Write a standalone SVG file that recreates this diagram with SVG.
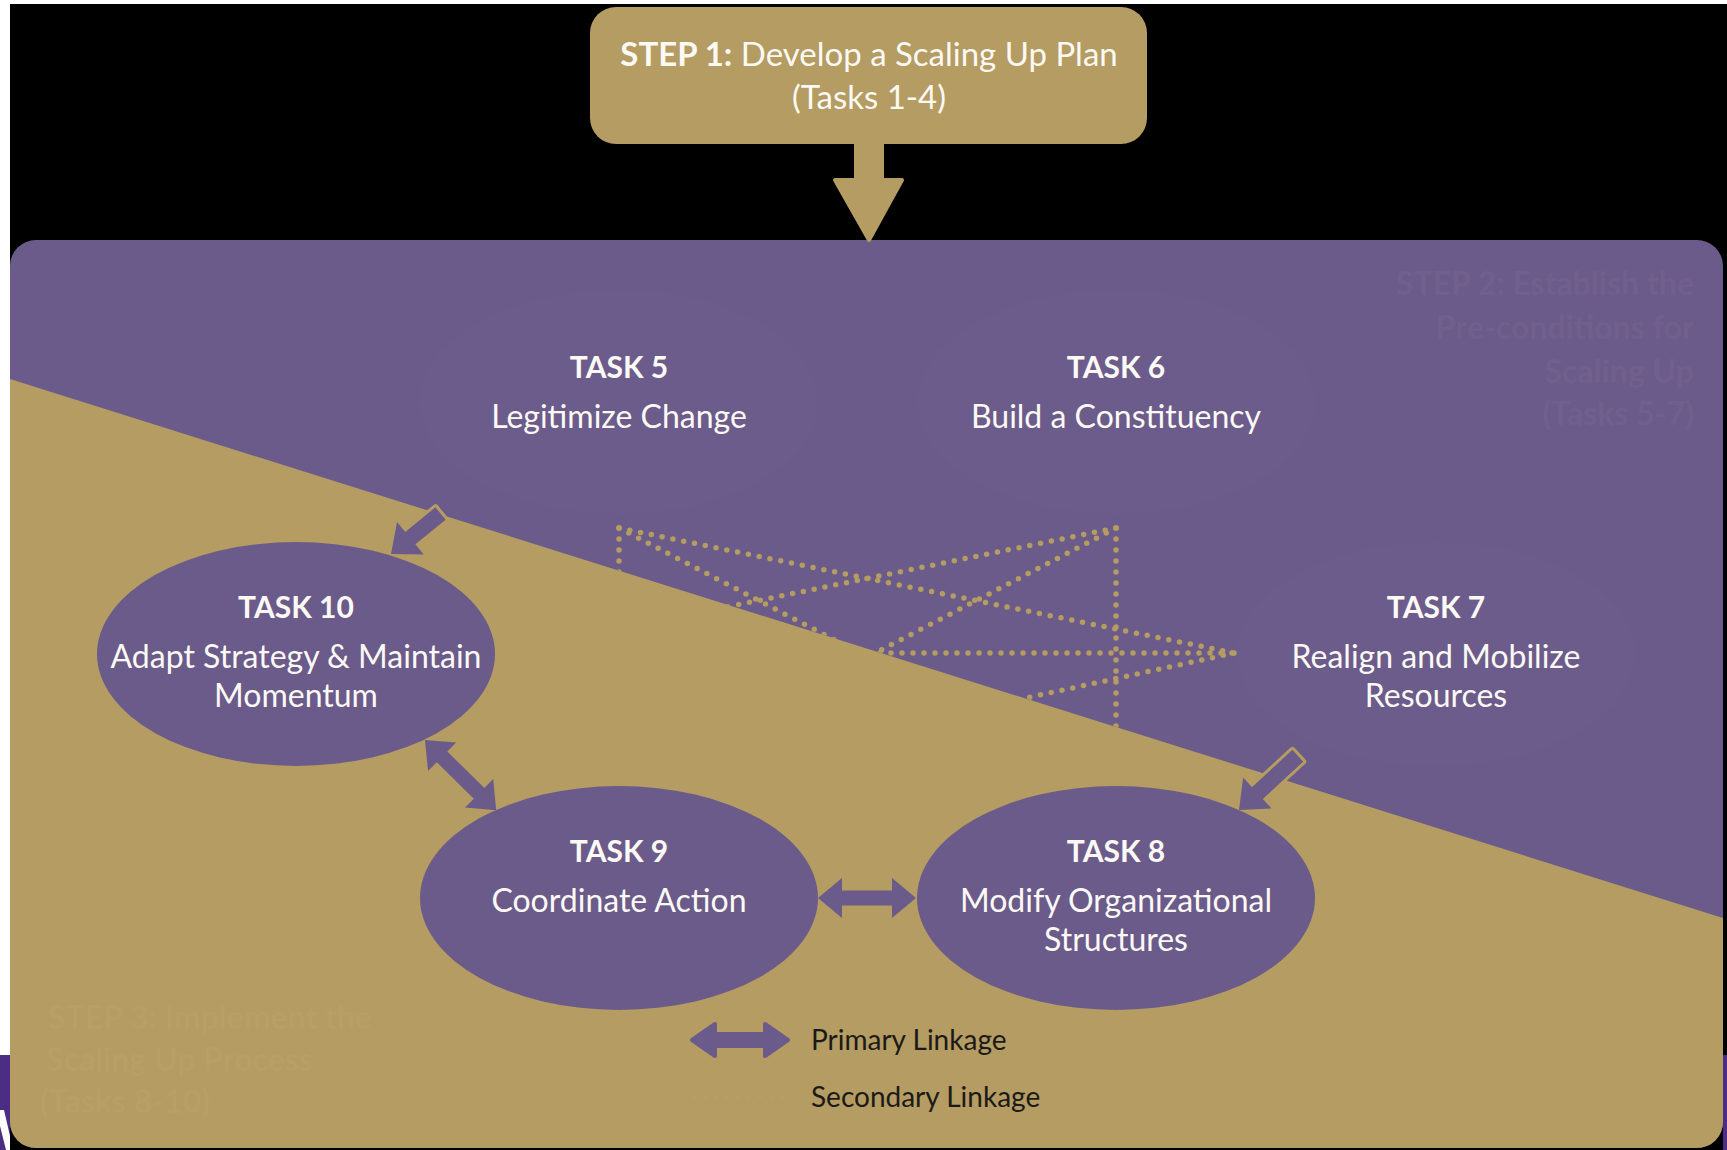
<svg xmlns="http://www.w3.org/2000/svg" width="1727" height="1150" viewBox="0 0 1727 1150">
  <defs>
    <style>
      .t { font-family: Lato, "Open Sans", "Liberation Sans", sans-serif; fill: #fbf9f4; text-anchor: middle; }
      .tt { font-size: 30px; font-weight: 700; }
      .tn { font-size: 32px; font-weight: 400; }
      .node { fill: #6b5b8a; }
      .ghost { fill: #6c5c8b; }
      .prim { fill: #6b5b8a; stroke: #b49c62; stroke-width: 6; stroke-linejoin: round; paint-order: stroke; }
      .dots { fill: none; stroke: #b49c62; stroke-width: 5.5; stroke-linecap: round; stroke-dasharray: 0 11; }
      .faintP { font-family: Lato, "Open Sans", "Liberation Sans", sans-serif; font-size: 32px; font-weight: 700; fill: #70608d; }
      .faintG { font-family: Lato, "Open Sans", "Liberation Sans", sans-serif; font-size: 32px; font-weight: 700; fill: #b79f65; }
      .leg { font-family: Lato, "Open Sans", "Liberation Sans", sans-serif; font-size: 28px; fill: #1b1a17; }
    </style>
    <clipPath id="panel">
      <rect x="10" y="240" width="1713" height="908" rx="26"/>
    </clipPath>
    <clipPath id="upper">
      <polygon points="10,240 1723,240 1723,918 10,379"/>
    </clipPath>
  </defs>

  <!-- page background -->
  <rect x="0" y="0" width="1727" height="1150" fill="#ffffff"/>
  <rect x="10" y="4" width="1717" height="1146" fill="#000000"/>
  <rect x="1723" y="1055" width="4" height="95" fill="#4b2e83"/>
  <rect x="0" y="1055" width="10" height="95" fill="#4b2e83"/>
  <polygon points="0,1110 4,1110 10,1136 10,1150 6,1150 0,1126" fill="#ffffff"/>

  <!-- main panel -->
  <g id="panel-bg" clip-path="url(#panel)">
    <rect x="10" y="240" width="1713" height="908" fill="#6b5b8a"/>
    <polygon points="10,379 1723,918 1723,1148 10,1148" fill="#b49c62"/>
  </g>

  <!-- faint step labels -->
  <g id="step2-label">
    <text class="faintP" text-anchor="end" x="1694" y="295">STEP 2: Establish the</text>
    <text class="faintP" text-anchor="end" x="1694" y="339">Pre-conditions for</text>
    <text class="faintP" text-anchor="end" x="1694" y="383">Scaling Up</text>
    <text class="faintP" text-anchor="end" x="1694" y="425">(Tasks 5-7)</text>
  </g>
  <g id="step3-label">
    <text class="faintG" x="48" y="1029">STEP 3: Implement the</text>
    <text class="faintG" x="46" y="1071">Scaling Up Process</text>
    <text class="faintG" x="40" y="1113">(Tasks 8-10)</text>
  </g>

  <!-- step 1 -->
  <g id="step1">
    <rect x="590" y="7" width="557" height="137" rx="26" fill="#b49c62"/>
    <path d="M856,140 L882,140 L882,180 L902,180 L869,240 L835,180 L856,180 Z" fill="#b49c62" stroke="#b49c62" stroke-width="4" stroke-linejoin="round"/>
    <text class="t" x="869" y="66" font-size="33"><tspan font-weight="700">STEP 1:</tspan> Develop a Scaling Up Plan</text>
    <text class="t" x="869" y="109" font-size="33">(Tasks 1-4)</text>
  </g>

  <!-- nodes -->
  <g id="task5">
    <ellipse class="ghost" cx="619" cy="402" rx="199" ry="112"/>
    <text class="t tt" x="619" y="378">TASK 5</text>
    <text class="t tn" x="619" y="428">Legitimize Change</text>
  </g>
  <g id="task6">
    <ellipse class="ghost" cx="1116" cy="402" rx="199" ry="112"/>
    <text class="t tt" x="1116" y="378">TASK 6</text>
    <text class="t tn" x="1116" y="428">Build a Constituency</text>
  </g>
  <g id="task7">
    <ellipse class="ghost" cx="1436" cy="654" rx="199" ry="112"/>
    <text class="t tt" x="1436" y="618">TASK 7</text>
    <text class="t tn" x="1436" y="668">Realign and Mobilize</text>
    <text class="t tn" x="1436" y="707">Resources</text>
  </g>

  <!-- connectors -->
  <g id="connectors">
    <g clip-path="url(#upper)">
      <line class="dots" x1="619" y1="528" x2="1234" y2="653"/>
      <line class="dots" x1="1116" y1="528" x2="495" y2="654"/>
      <line class="dots" x1="619" y1="528" x2="1116" y2="786"/>
      <line class="dots" x1="1116" y1="528" x2="619" y2="786"/>
      <line class="dots" x1="495" y1="653" x2="1234" y2="653"/>
      <line class="dots" x1="1234" y1="653" x2="619" y2="786"/>
      <line class="dots" x1="619" y1="528" x2="619" y2="786"/>
      <line class="dots" x1="1116" y1="528" x2="1116" y2="786"/>
    </g>
    <path class="prim" transform="translate(391,554) rotate(-39.3)" d="M0,0 L25,-21 L25,-8 L64,-8 L64,8 L25,8 L25,21 Z"/>
    <path class="prim" transform="translate(1239,810) rotate(-42.7)" d="M0,0 L25,-21 L25,-8 L80,-8 L80,8 L25,8 L25,21 Z"/>
    <path class="prim" transform="translate(425,740) rotate(44.6)" d="M0,0 L24,-20 L24,-7.5 L76,-7.5 L76,-20 L100,0 L76,20 L76,7.5 L24,7.5 L24,20 Z"/>
    <path class="prim" transform="translate(818,898)" d="M0,0 L24,-20 L24,-7.5 L74,-7.5 L74,-20 L98,0 L74,20 L74,7.5 L24,7.5 L24,20 Z"/>
  </g>

  <g id="task10">
    <ellipse class="node" cx="296" cy="654" rx="199" ry="112"/>
    <text class="t tt" x="296" y="618">TASK 10</text>
    <text class="t tn" x="296" y="668">Adapt Strategy &amp; Maintain</text>
    <text class="t tn" x="296" y="707">Momentum</text>
  </g>
  <g id="task9">
    <ellipse class="node" cx="619" cy="898" rx="199" ry="112"/>
    <text class="t tt" x="619" y="862">TASK 9</text>
    <text class="t tn" x="619" y="912">Coordinate Action</text>
  </g>
  <g id="task8">
    <ellipse class="node" cx="1116" cy="898" rx="199" ry="112"/>
    <text class="t tt" x="1116" y="862">TASK 8</text>
    <text class="t tn" x="1116" y="912">Modify Organizational</text>
    <text class="t tn" x="1116" y="951">Structures</text>
  </g>

  <!-- legend -->
  <g id="legend">
    <path fill="#6b5b8a" stroke="#6b5b8a" stroke-width="4" stroke-linejoin="round" transform="translate(692,1040)" d="M0,0 L23,-16 L23,-6 L73,-6 L73,-16 L96,0 L73,16 L73,6 L23,6 L23,16 Z"/>
    <text class="leg" x="811" y="1050">Primary Linkage</text>
    <line x1="694" y1="1097" x2="788" y2="1097" stroke="#b69e64" stroke-width="5" stroke-linecap="round" stroke-dasharray="0 11"/>
    <text class="leg" x="811" y="1107">Secondary Linkage</text>
  </g>
</svg>
